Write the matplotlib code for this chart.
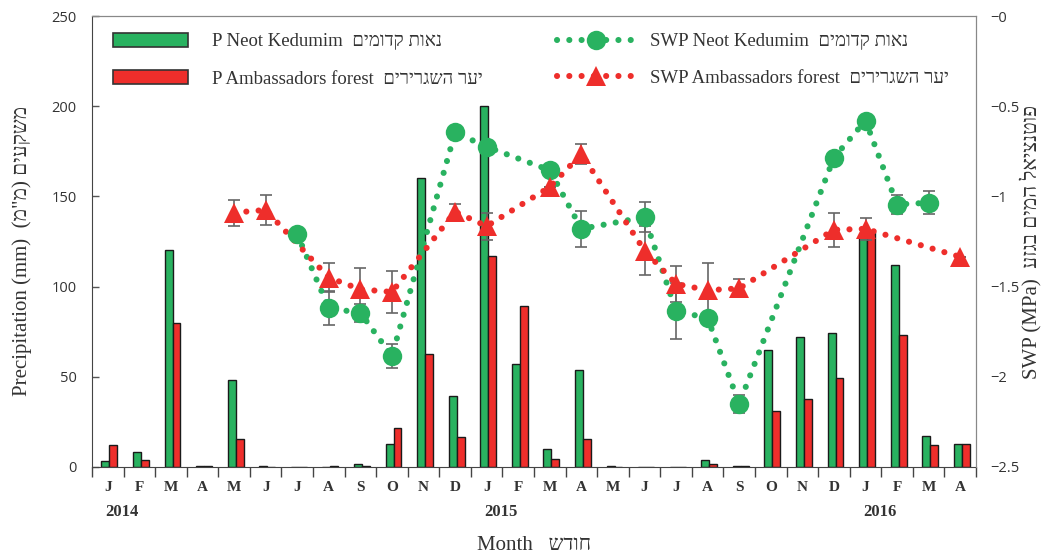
import numpy as np
import matplotlib
matplotlib.use("Agg")
import matplotlib.pyplot as plt
from matplotlib.patches import Rectangle
from matplotlib.lines import Line2D
from matplotlib.ticker import FixedLocator, FixedFormatter

nan = np.nan

months = ['J', 'F', 'M', 'A', 'M', 'J', 'J', 'A', 'S', 'O', 'N', 'D',
          'J', 'F', 'M', 'A', 'M', 'J', 'J', 'A', 'S', 'O', 'N', 'D',
          'J', 'F', 'M', 'A']
years = ['2014', '2015', '2016']
year_pos = [0, 12, 24]

# Precipitation (mm)
p_neot = [3.5, 8.5, 120.5, 0.5, 48, 0.3, 0, 0, 1.7, 12.7, 160, 39.5,
          200, 57, 10, 53.5, 0.3, 0, 0, 3.8, 0.5, 65, 72, 74.5,
          127, 112, 17, 13]
p_amb = [12, 4, 80, 0.5, 15.5, 0, 0, 0.3, 0.7, 21.5, 62.5, 16.5,
         117, 89, 4.4, 15.4, 0, 0, 0, 1.5, 0.5, 31, 37.5, 49.5,
         130, 73, 12.2, 13]

# Stem water potential (MPa)
swp_neot = [nan, nan, nan, nan, nan, nan, -1.21, -1.62, -1.645, -1.885, nan, -0.645,
            -0.725, nan, -0.855, -1.18, nan, -1.115, -1.635, -1.675, -2.15, nan, nan, -0.785,
            -0.58, -1.045, -1.035, nan]
swp_neot_err = [nan, nan, nan, nan, nan, nan, 0.02, 0.095, 0.05, 0.068, nan, 0.0,
                0.02, nan, 0.0, 0.1, nan, 0.082, 0.153, 0.0, 0.05, nan, nan, 0.0,
                0.0, 0.055, 0.064, nan]
swp_amb = [nan, nan, nan, nan, -1.09, -1.075, nan, -1.45, -1.515, -1.53, nan, -1.085,
           -1.165, nan, -0.948, -0.765, nan, -1.3, -1.485, -1.52, -1.51, nan, nan, -1.185,
           -1.18, nan, nan, -1.335]
swp_amb_err = [nan, nan, nan, nan, 0.072, 0.085, nan, 0.082, 0.12, 0.114, nan, 0.043,
               0.074, nan, 0.0, 0.055, nan, 0.135, 0.1, 0.15, 0.05, nan, nan, 0.094,
               0.063, nan, nan, 0.0]

GREEN = '#29b260'
RED = '#ee2e2b'
SERIF = ['Liberation Serif', 'DejaVu Serif', 'DejaVu Sans']
SANS = ['Open Sans', 'DejaVu Sans']

def heb(s):
    # matplotlib has no bidi support: give Hebrew in visual order
    return s[::-1]

fig = plt.figure(figsize=(10.47, 5.56), dpi=100)
L, R, T, B = 92, 976, 16, 467
W, H = 1047, 556
ax = fig.add_axes([L / W, 1 - B / H, (R - L) / W, (B - T) / H])
ax2 = ax.twinx()

x = np.arange(len(months))
bw = 0.25
ax.bar(x - bw / 2 + 0.05, p_neot, bw, color=GREEN, edgecolor='#1a1a1a', linewidth=1.0, zorder=2)
ax.bar(x + bw / 2 + 0.05, p_amb, bw, color=RED, edgecolor='#1a1a1a', linewidth=1.0, zorder=2)
ax.set_xlim(-0.5, len(months) - 0.5)
ax.set_ylim(0, 250)
ax.set_yticks([0, 50, 100, 150, 200, 250])
ax.tick_params(axis='y', direction='in', length=5, width=1, colors='#555555',
               labelcolor='#333333', labelsize=10.5, pad=11)
for lab in ax.get_yticklabels():
    lab.set_fontfamily(SANS)

ax.set_xticks(x)
ax.set_xticklabels(months, fontfamily=SERIF, fontweight='bold', fontsize=11, color='#333333')
ax.xaxis.set_minor_locator(FixedLocator(np.arange(-0.5, len(months), 1.0)))
ax.tick_params(axis='x', which='major', length=0, pad=10)
ax.tick_params(axis='x', which='minor', length=7, width=1, color='#444444', direction='out')

for yr, xp in zip(years, year_pos):
    ax.text(xp + 0.45, -0.1, yr, transform=ax.get_xaxis_transform(), ha='center', va='center',
            fontfamily=SERIF, fontweight='bold', fontsize=12, color='#333333')

for sp in ['left', 'bottom']:
    ax.spines[sp].set_color('#444444')
for sp in ['top', 'right']:
    ax.spines[sp].set_color('#888888')
    ax2.spines[sp].set_color('#888888')
ax2.spines['left'].set_visible(False)
ax2.spines['bottom'].set_visible(False)

# SWP axis
ax2.set_ylim(-2.5, 0)
yt = [0, -0.5, -1, -1.5, -2, -2.5]
ax2.yaxis.set_major_locator(FixedLocator(yt))
ax2.yaxis.set_major_formatter(FixedFormatter(['\u22120', '\u22120.5', '\u22121', '\u22121.5', '\u22122', '\u22122.5']))
ax2.tick_params(axis='y', length=0, labelcolor='#333333', labelsize=10.5, pad=10)
for lab in ax2.get_yticklabels():
    lab.set_fontfamily(SANS)

dot_style = (0, (0.01, 2.0))
LW = 4.4

def series(vals, errs, color, marker, ms):
    v = np.array(vals, dtype=float)
    e = np.array(errs, dtype=float)
    m = ~np.isnan(v)
    ax2.errorbar(x[m], v[m], yerr=np.nan_to_num(e[m]), fmt='none', ecolor='#666666',
                 elinewidth=1.2, capsize=4.5, capthick=1.2, zorder=3)
    ax2.plot(x[m], v[m], linestyle=dot_style, linewidth=LW, color=color,
             dash_capstyle='round', zorder=4)
    ax2.plot(x[m], v[m], linestyle='none', marker=marker, markersize=ms, color=color,
             markeredgewidth=0, zorder=5)

series(swp_neot, swp_neot_err, GREEN, 'o', 14)
series(swp_amb, swp_amb_err, RED, '^', 14)

# Axis labels
fig.text(22 / W, 1 - 251 / H,
         'Precipitation (mm)  ' + heb('משקעים (מ"מ)').replace('(', '#').replace(')', '(').replace('#', ')'),
         rotation=90, ha='center', va='center', fontfamily=SERIF, fontsize=15, color='#333333')
fig.text(1031 / W, 1 - 242 / H, 'SWP (MPa)  ' + heb('פוטנציאל המים בגזע'),
         rotation=90, ha='center', va='center', fontfamily=SERIF, fontsize=15, color='#333333')
fig.text(534 / W, 1 - 546 / H, 'Month   ' + heb('חודש'), ha='center', va='center',
         fontfamily=SERIF, fontsize=15, color='#333333')

# Legends
fs = 13.5
h1 = [Rectangle((0, 0), 1, 1, facecolor=GREEN, edgecolor='#333333', linewidth=1.2),
      Rectangle((0, 0), 1, 1, facecolor=RED, edgecolor='#333333', linewidth=1.2)]
l1 = ['P Neot Kedumim  ' + heb('נאות קדומים'), 'P Ambassadors forest  ' + heb('יער השגרירים')]
leg1 = ax2.legend(h1, l1, loc='upper left', bbox_to_anchor=(113 / W, 1 - 33 / H),
                  bbox_transform=fig.transFigure, frameon=False, borderpad=0, borderaxespad=0,
                  handlelength=4.0, handleheight=0.75, handletextpad=1.3, labelspacing=1.05,
                  prop={'family': SERIF, 'size': fs}, labelcolor='#333333')
ax2.add_artist(leg1)
h2 = [Line2D([], [], linestyle=dot_style, linewidth=LW, color=GREEN, dash_capstyle='round',
             marker='o', markersize=14, markeredgewidth=0),
      Line2D([], [], linestyle=dot_style, linewidth=LW, color=RED, dash_capstyle='round',
             marker='^', markersize=14, markeredgewidth=0)]
l2 = ['SWP Neot Kedumim  ' + heb('נאות קדומים'), 'SWP Ambassadors forest  ' + heb('יער השגרירים')]
leg2 = ax2.legend(h2, l2, loc='upper left', bbox_to_anchor=(557 / W, 1 - 33 / H),
                  bbox_transform=fig.transFigure, frameon=False, borderpad=0, borderaxespad=0,
                  handlelength=4.2, handletextpad=0.75, labelspacing=1.05, numpoints=1,
                  prop={'family': SERIF, 'size': fs}, labelcolor='#333333')

fig.savefig('out.png', dpi=100)
